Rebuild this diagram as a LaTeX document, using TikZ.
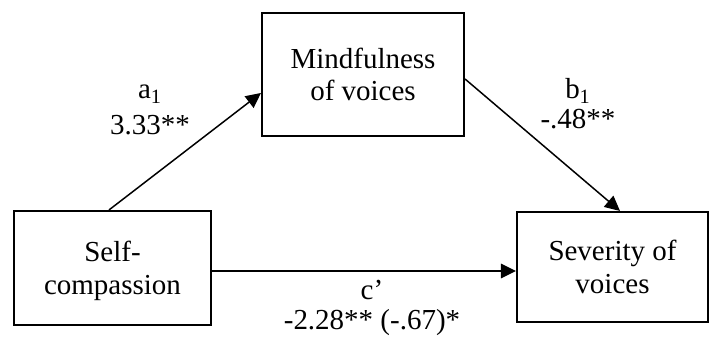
\documentclass[tikz,border=0pt]{standalone}
\usepackage{fontspec}
\setmainfont{Liberation Serif}
\usetikzlibrary{arrows.meta}

\begin{document}
\begin{tikzpicture}[
    x=0.02cm, y=-0.02cm,
    box/.style={draw, line width=1.2pt, align=center, inner sep=0pt,
                font=\fontsize{16.5}{18.5}\selectfont},
    coef/.style={align=center, inner sep=0pt, anchor=south, text depth=0pt,
                 font=\fontsize{16.5}{18.5}\selectfont},
    arrow/.style={-{Triangle[length=0.3cm, width=0.29cm]}, line width=0.85pt},
]
\useasboundingbox (0,0) rectangle (709,340);
\node[box, minimum width=3.94cm, minimum height=2.28cm, text depth=0pt]
      (sc) at (112.5,268) {Self-\\compassion};
\node[box, minimum width=4.04cm, minimum height=2.46cm]
      (mv) at (363,74.5) {Mindfulness\\of voices};
\node[box, minimum width=3.82cm, minimum height=2.2cm]
      (sv) at (612.5,267) {Severity of\\voices};

\node[coef] (la) at (150,135) {a\textsubscript{1}\\[2pt]3.33**};
\node[coef] (lb) at (578,129) {b\textsubscript{1}\\[-1.5pt]-.48**};
\node[coef] (lc) at (372,330) {c’\\[-1.5pt]-2.28** (-.67)*};

\draw[arrow] ([xshift=-0.07cm]sc.north) -- ([yshift=-0.37cm]mv.west);
\draw[arrow] ([yshift=-0.09cm]mv.east) -- ([xshift=0.15cm]sv.north);
\draw[arrow] ([yshift=-0.06cm]sc.east) -- ([yshift=-0.06cm]sc.east -| sv.west);
\end{tikzpicture}
\end{document}
